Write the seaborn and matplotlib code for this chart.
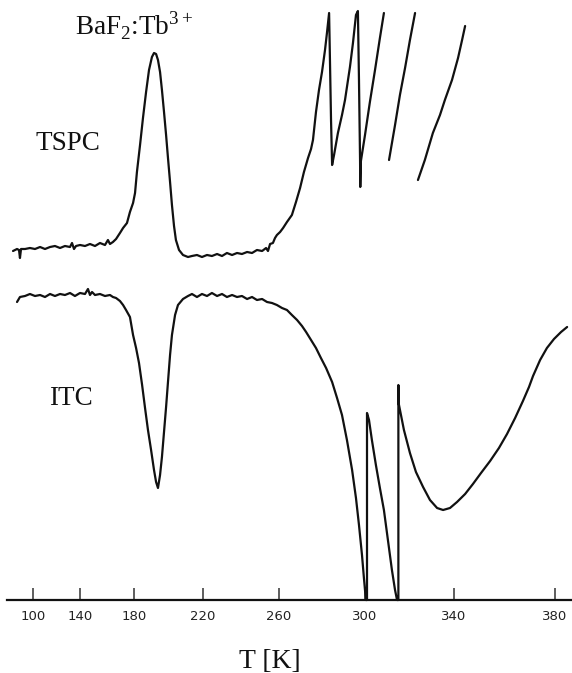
import numpy as np
import pandas as pd
import matplotlib
matplotlib.use("Agg")
import matplotlib.pyplot as plt
import seaborn as sns

# ---------------- data (T in K, signal in arbitrary units) ----------------
tick_T = [100, 140, 180, 220, 260, 300, 340, 380]

# TSPC, main continuous trace
tspc_T_a = [83.0, 86.4, 88.1, 88.9, 89.8, 93.2, 97.4, 101.7, 106.0, 110.2, 114.5, 118.7, 123.0, 127.2,
            131.5, 133.2, 134.9, 136.6, 140.0, 143.7, 147.4, 151.1, 154.8, 158.5, 160.7, 162.2, 164.4,
            166.7, 169.6, 171.9, 174.8,
            177.0, 179.3, 180.6, 181.7, 183.5, 185.2, 187.0, 188.7, 190.4, 191.6, 192.8, 193.9, 195.1,
            196.2, 197.4, 198.6, 199.7, 200.9, 202.0, 203.2, 204.3, 206.1, 208.4, 211.3,
            213.6, 216.5, 219.4, 222.1, 224.7, 227.4, 230.0, 232.6, 235.3, 237.9, 240.5, 243.2, 245.8,
            248.4, 251.1, 253.2, 254.2, 255.3, 256.8, 257.9, 258.9, 260.5, 261.9, 263.7,
            266.0, 267.9, 269.8, 271.6, 273.5, 274.9, 275.8, 277.2, 278.6, 280.0, 281.4, 282.3, 283.3,
            283.7, 284.2, 284.7,
            285.6, 287.4, 289.3, 290.7, 293.0, 294.4, 295.8, 296.7,
            297.2, 297.7, 297.8, 298.1, 300.0, 302.2, 304.5, 306.7, 308.5]
tspc_a = [349, 351, 350, 342, 351, 351, 352, 351, 353, 351, 353, 354, 352, 354,
          353, 357, 351, 354, 355, 354, 356, 354, 357, 355, 360, 356, 358,
          361, 367, 372, 377,
          388, 397, 407, 428, 455, 482, 508, 530, 543, 547, 546, 540, 528,
          510, 488, 465, 442, 418, 395, 374, 360, 350, 345, 343,
          344, 345, 343, 345, 344, 346, 344, 347, 345, 347, 346, 348, 347,
          350, 349, 352, 349, 356, 357, 362, 365, 368, 372, 378,
          385, 398, 412, 428, 442, 451, 460, 488, 510, 528, 550, 567, 587,
          540, 480, 435,
          445, 467, 485, 500, 533, 557, 585, 589,
          520, 440, 413, 439, 465, 498, 530, 562, 587]
# TSPC, later range-switched traces
tspc_T_b = [310.8, 313.5, 315.7, 318.0, 320.2, 322.5]
tspc_b = [440, 475, 505, 532, 560, 587]
tspc_T_c = [323.8, 326.9, 330.5, 333.7, 335.9, 339.1, 341.6, 343.2, 344.4]
tspc_c = [420, 440, 467, 485, 500, 520, 542, 560, 574]

# ITC trace
itc_T = [86.4, 88.9, 93.2, 97.4, 101.7, 106.0, 110.2, 114.5, 118.7, 123.0, 127.2, 131.5, 135.7, 140.0,
         143.7, 145.9, 147.4, 148.9, 151.1, 154.8, 158.5, 162.2, 164.4, 166.7, 169.6, 171.9, 174.1, 177.0,
         179.3, 181.2, 182.9, 184.7, 186.4, 188.1, 189.9, 191.6, 192.8, 193.9, 195.1, 196.2, 197.4,
         198.6, 199.7, 200.9, 202.0, 203.8, 205.5, 208.4, 211.3,
         213.6, 216.5, 219.4, 222.1, 224.7, 227.4, 230.0, 232.6, 235.3, 237.9, 240.5, 243.2, 245.8,
         248.4, 251.1, 253.7, 256.3, 258.9, 261.4, 263.7, 266.0,
         268.4, 270.7, 272.6, 274.9, 277.2, 279.5, 281.9, 284.7, 287.0, 289.3, 291.6, 294.0, 295.8,
         297.2, 298.6, 299.5, 300.4,
         300.9, 300.9,
         301.8, 303.1, 304.9, 306.7, 308.5, 310.3, 312.1, 313.5, 314.4,
         315.0, 315.0,
         315.1, 317.5, 320.2, 322.9, 326.1, 329.2, 332.4, 335.1, 338.2, 341.2, 344.4, 347.5, 350.7,
         354.3, 357.8, 361.0, 364.2, 367.3, 369.7, 371.3, 374.1, 376.8, 379.6, 382.4, 384.8]
itc = [298, 303, 304, 306, 304, 305, 303, 306, 304, 306, 305, 307, 304, 307,
       306, 311, 305, 308, 305, 306, 304, 305, 303, 302, 299, 295, 290, 283,
       265, 252, 237, 215, 192, 170, 150, 130, 118, 112, 125, 143, 168,
       193, 218, 245, 265, 285, 295, 301, 304,
       306, 303, 306, 304, 307, 304, 306, 303, 305, 303, 304, 301, 303,
       300, 301, 298, 297, 295, 292, 290, 285,
       280, 274, 268, 260, 252, 242, 232, 218, 202, 185, 160, 130, 102,
       75, 45, 22, 0,
       0, 187,
       180, 160, 135, 112, 90, 60, 30, 10, 0,
       0, 215,
       197, 170, 147, 128, 113, 100, 92, 90, 92, 98, 106, 116, 127,
       139, 152, 166, 182, 199, 213, 224, 240, 252, 261, 268, 273]

df = pd.concat([
    pd.DataFrame({"T": tspc_T_a, "signal": tspc_a, "trace": "TSPC a"}),
    pd.DataFrame({"T": tspc_T_b, "signal": tspc_b, "trace": "TSPC b"}),
    pd.DataFrame({"T": tspc_T_c, "signal": tspc_c, "trace": "TSPC c"}),
    pd.DataFrame({"T": itc_T, "signal": itc, "trace": "ITC"}),
], ignore_index=True)

# ---------------- non-linear temperature axis (calibrated from the scan) ----------------
W, H = 572, 673
cal_T = np.array(tick_T, dtype=float)
cal_P = np.array([33, 80, 134, 203, 279, 365, 454, 555], dtype=float)


def _pw(x, xs, ys):
    x = np.asarray(x, dtype=float)
    y = np.interp(x, xs, ys)
    s0 = (ys[1] - ys[0]) / (xs[1] - xs[0])
    s1 = (ys[-1] - ys[-2]) / (xs[-1] - xs[-2])
    y = np.where(x < xs[0], ys[0] + (x - xs[0]) * s0, y)
    y = np.where(x > xs[-1], ys[-1] + (x - xs[-1]) * s1, y)
    return y


def fwd(t):
    return _pw(t, cal_T, cal_P)


def inv(p):
    return _pw(p, cal_P, cal_T)


# ---------------- figure ----------------
sns.set_theme(style="white")
plt.rcParams["font.family"] = ["Liberation Serif", "DejaVu Serif"]
plt.rcParams["mathtext.fontset"] = "custom"
plt.rcParams["mathtext.rm"] = "Liberation Serif"

fig = plt.figure(figsize=(W / 100, H / 100), dpi=100)
ax = fig.add_axes([0, 0, 1, 1])
ax.set_facecolor("white")

sns.lineplot(data=df, x="T", y="signal", units="trace", estimator=None, sort=False,
             color="#111111", linewidth=1.6, legend=False, ax=ax)

ax.set_xscale("function", functions=(fwd, inv))
ax.set_xlim(float(inv(0)), float(inv(W)))
ax.set_ylim(-(H - 600), 600)

for s in ["left", "right", "top"]:
    ax.spines[s].set_visible(False)
ax.spines["bottom"].set_position(("data", 0))
ax.spines["bottom"].set_linewidth(1.6)
ax.spines["bottom"].set_color("#111111")
ax.spines["bottom"].set_bounds(float(inv(7)), float(inv(W)))

ax.set_xticks(tick_T)
ax.set_xticklabels([str(t) for t in tick_T], fontfamily="DejaVu Sans", fontsize=9.5, color="#222222")
ax.tick_params(axis="x", direction="in", length=8.5, width=1.1, color="#333333", pad=7.5, bottom=True)
ax.set_yticks([])
ax.set_xlabel("")
ax.set_ylabel("")

def fx(px):
    return px / W

def fy(py):
    return 1 - py / H

fig.text(fx(75), fy(35), r"BaF$_\mathrm{2}$:Tb$^\mathrm{3+}$", fontsize=19.5, ha="left", va="baseline", color="#111111")
fig.text(fx(35), fy(150), "TSPC", fontsize=19.5, ha="left", va="baseline", color="#111111")
fig.text(fx(49), fy(405), "ITC", fontsize=19.5, ha="left", va="baseline", color="#111111")
fig.text(fx(239), fy(668), "T [K]", fontsize=20, ha="left", va="baseline", color="#111111")

fig.savefig("out.png", dpi=100, facecolor="white")
